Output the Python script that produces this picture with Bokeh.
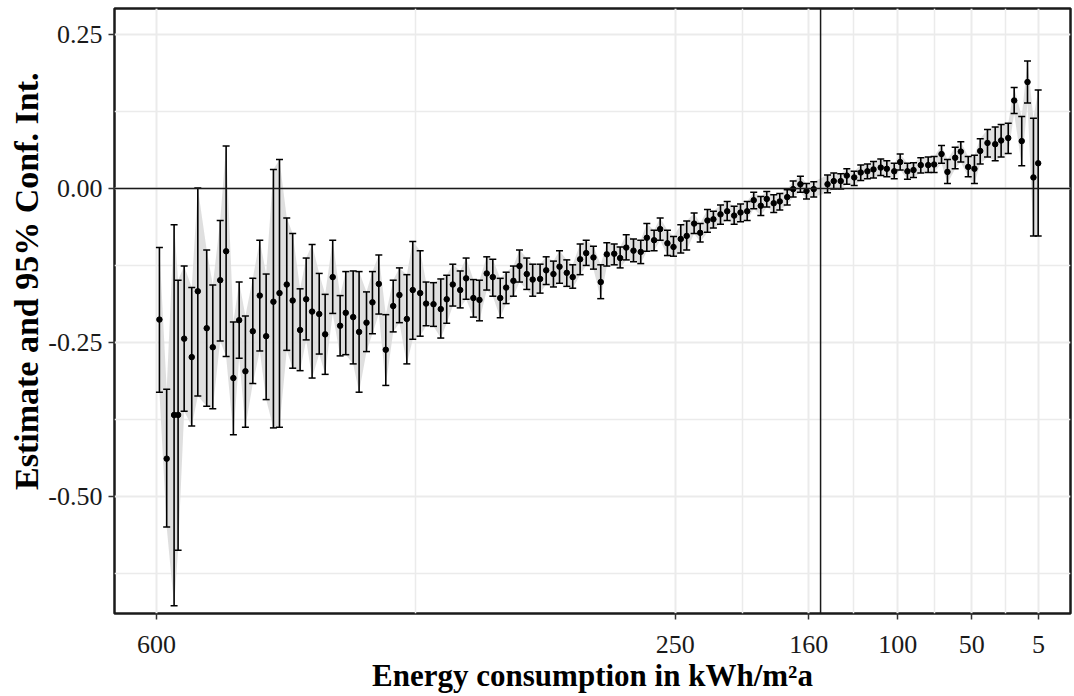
from bokeh.plotting import figure
from bokeh.models import (Range1d, FixedTicker, PrintfTickFormatter,
                          ColumnDataSource, Span, Title)
from bokeh.embed import file_html
from bokeh.resources import INLINE

# Energy consumption bins (kWh/m2a), estimates and 95% CI bounds
energy = [598.0, 593.1, 588.1, 585.4, 581.3, 576.2, 572.1, 566.1, 562.0, 557.0,
          553.0, 548.1, 544.2, 540.0, 535.0, 530.3, 526.0, 521.1, 517.0, 512.1,
          508.1, 503.1, 499.0, 495.0, 490.2, 486.2, 481.1, 476.1, 472.3, 467.3,
          463.3, 458.3, 454.3, 450.0, 445.3, 440.3, 436.1, 431.1, 427.1, 422.1,
          418.1, 413.1, 408.2, 404.2, 400.1, 395.1, 391.1, 386.2, 382.1, 377.2,
          373.1, 368.1, 364.1, 359.2, 355.1, 350.2, 346.2, 341.2, 337.1, 332.2,
          328.1, 323.2, 319.2, 314.2, 310.1, 305.2, 300.3, 296.2, 291.2, 287.2,
          283.1, 278.2, 273.3, 269.2, 264.3, 260.2, 255.3, 251.2, 246.3, 242.3,
          237.3, 233.2, 228.3, 224.3, 219.5, 215.0, 210.3, 206.0, 201.5, 197.1,
          192.3, 188.3, 183.6, 179.5, 174.5, 170.5, 165.6, 161.5, 156.6, 147.3,
          143.1, 138.4, 134.3, 129.3, 124.9, 120.4, 116.3, 111.4, 107.3, 102.3,
          98.3, 93.4, 89.3, 84.4, 79.4, 75.4, 70.4, 66.4, 61.2, 57.4,
          52.4, 48.2, 44.3, 39.4, 34.2, 30.2, 25.4, 21.4, 16.3, 12.4,
          8.4, 5.2]

estimate = [-0.213, -0.439, -0.368, -0.368, -0.244, -0.274, -0.167, -0.227, -0.258, -0.149,
            -0.102, -0.308, -0.214, -0.297, -0.232, -0.174, -0.240, -0.184, -0.170, -0.156,
            -0.182, -0.230, -0.180, -0.200, -0.204, -0.237, -0.144, -0.223, -0.202, -0.209,
            -0.233, -0.218, -0.185, -0.155, -0.262, -0.191, -0.173, -0.212, -0.165, -0.170,
            -0.187, -0.188, -0.196, -0.180, -0.156, -0.165, -0.146, -0.178, -0.181, -0.138,
            -0.144, -0.178, -0.161, -0.150, -0.126, -0.139, -0.148, -0.147, -0.133, -0.139,
            -0.127, -0.137, -0.144, -0.115, -0.105, -0.112, -0.152, -0.107, -0.106, -0.113,
            -0.096, -0.101, -0.103, -0.080, -0.084, -0.066, -0.089, -0.095, -0.082, -0.077,
            -0.057, -0.072, -0.052, -0.050, -0.042, -0.037, -0.044, -0.039, -0.037, -0.019,
            -0.028, -0.017, -0.024, -0.021, -0.014, -0.001, 0.007, -0.004, -0.001, 0.007,
            0.012, 0.012, 0.021, 0.018, 0.026, 0.028, 0.031, 0.034, 0.032, 0.028,
            0.043, 0.028, 0.030, 0.038, 0.038, 0.039, 0.056, 0.027, 0.050, 0.060,
            0.035, 0.032, 0.061, 0.074, 0.072, 0.078, 0.082, 0.143, 0.077, 0.173,
            0.018, 0.041]

upper = [-0.096, -0.326, -0.059, -0.149, -0.126, -0.161, 0.001, -0.100, -0.157, -0.052,
         0.069, -0.217, -0.152, -0.207, -0.146, -0.084, -0.139, 0.031, 0.047, -0.048,
         -0.073, -0.163, -0.113, -0.091, -0.138, -0.172, -0.084, -0.174, -0.135, -0.134,
         -0.135, -0.168, -0.135, -0.108, -0.205, -0.149, -0.129, -0.140, -0.086, -0.101,
         -0.152, -0.153, -0.147, -0.141, -0.123, -0.134, -0.113, -0.148, -0.149, -0.111,
         -0.115, -0.146, -0.136, -0.126, -0.100, -0.113, -0.123, -0.123, -0.111, -0.118,
         -0.101, -0.116, -0.124, -0.090, -0.084, -0.094, -0.124, -0.088, -0.090, -0.095,
         -0.075, -0.082, -0.084, -0.057, -0.068, -0.048, -0.068, -0.078, -0.059, -0.053,
         -0.040, -0.057, -0.034, -0.037, -0.027, -0.021, -0.029, -0.025, -0.021, -0.006,
         -0.013, -0.005, -0.010, -0.008, -0.002, 0.012, 0.020, 0.008, 0.011, 0.022,
         0.025, 0.024, 0.032, 0.028, 0.038, 0.040, 0.044, 0.048, 0.045, 0.041,
         0.056, 0.041, 0.042, 0.050, 0.051, 0.052, 0.070, 0.047, 0.067, 0.076,
         0.052, 0.054, 0.081, 0.096, 0.100, 0.104, 0.106, 0.164, 0.117, 0.207,
         0.114, 0.160]

lower = [-0.331, -0.550, -0.678, -0.588, -0.362, -0.386, -0.337, -0.354, -0.358, -0.248,
         -0.273, -0.400, -0.276, -0.388, -0.317, -0.264, -0.343, -0.389, -0.388, -0.263,
         -0.292, -0.296, -0.246, -0.308, -0.269, -0.302, -0.203, -0.272, -0.270, -0.285,
         -0.331, -0.265, -0.236, -0.204, -0.320, -0.233, -0.218, -0.285, -0.245, -0.240,
         -0.223, -0.224, -0.243, -0.219, -0.191, -0.194, -0.180, -0.209, -0.215, -0.165,
         -0.175, -0.210, -0.187, -0.175, -0.152, -0.164, -0.175, -0.170, -0.156, -0.160,
         -0.154, -0.159, -0.162, -0.140, -0.125, -0.131, -0.179, -0.126, -0.124, -0.129,
         -0.116, -0.119, -0.122, -0.102, -0.101, -0.084, -0.109, -0.110, -0.105, -0.100,
         -0.073, -0.087, -0.071, -0.064, -0.058, -0.052, -0.058, -0.054, -0.052, -0.033,
         -0.044, -0.030, -0.039, -0.035, -0.027, -0.014, -0.006, -0.017, -0.014, -0.007,
         -0.001, -0.001, 0.007, 0.005, 0.013, 0.016, 0.017, 0.021, 0.019, 0.016,
         0.030, 0.015, 0.018, 0.025, 0.026, 0.026, 0.041, 0.008, 0.032, 0.043,
         0.019, 0.008, 0.040, 0.051, 0.045, 0.051, 0.057, 0.122, 0.037, 0.139,
         -0.077, -0.077]

x_ticks = [600, 250, 160, 100, 50, 5]
x_minor = [425, 205, 130, 75, 27.5]
y_ticks = [-0.5, -0.25, 0.0, 0.25]
y_minor = [-0.625, -0.375, -0.125, 0.125]
cutoff = 152

x_title = "Energy consumption in kWh/m\u00b2a"
y_title = "Estimate and 95% Conf. Int."

src = ColumnDataSource(data=dict(x=energy, est=estimate, upper=upper, lower=lower))

p = figure(width=1072, height=695, output_backend="svg", toolbar_location=None,
           x_range=Range1d(628.3, -16.6), y_range=Range1d(-0.6906, 0.2925),
           min_border_left=114, min_border_top=8, min_border_right=2,
           min_border_bottom=82)

serif = "Liberation Serif"

# grid
p.xaxis.ticker = FixedTicker(ticks=x_ticks, minor_ticks=x_minor)
p.yaxis.ticker = FixedTicker(ticks=y_ticks, minor_ticks=y_minor)
p.yaxis.formatter = PrintfTickFormatter(format="%.2f")
for g in (p.xgrid, p.ygrid):
    g.grid_line_color = "#ebebeb"
    g.grid_line_width = 2
    g.minor_grid_line_color = "#ebebeb"
    g.minor_grid_line_width = 1.5

p.outline_line_color = "#1a1a1a"
p.outline_line_width = 2.5
p.background_fill_color = "white"
p.border_fill_color = "white"

# ribbon
p.varea(x="x", y1="lower", y2="upper", source=src, fill_color="#dcdcdc", fill_alpha=0.9)

# reference lines
p.add_layout(Span(location=0, dimension="width", line_color="#1a1a1a", line_width=1.5))
p.add_layout(Span(location=cutoff, dimension="height", line_color="#1a1a1a", line_width=1.5))

# error bars: stems and caps
p.segment(x0="x", y0="lower", x1="x", y1="upper", source=src,
          line_color="black", line_width=1.6)
p.scatter(x="x", y="upper", source=src, marker="dash", size=7,
          line_color="black", line_width=1.5)
p.scatter(x="x", y="lower", source=src, marker="dash", size=7,
          line_color="black", line_width=1.5)

p.scatter(x="x", y="est", source=src, size=5.5, color="black")

# axes
for ax in (p.xaxis, p.yaxis):
    ax.axis_line_color = None
    ax.major_tick_line_color = "#333333"
    ax.major_tick_line_width = 1.5
    ax.major_tick_out = 6
    ax.major_tick_in = 0
    ax.minor_tick_line_color = None
    ax.major_label_text_font = serif
    ax.major_label_text_font_size = "26px"
    ax.major_label_text_color = "#1a1a1a"
    ax.axis_label_text_font = serif
    ax.axis_label_text_font_style = "bold"
    ax.axis_label_text_color = "black"

p.xaxis.axis_label_text_font_size = "31px"
p.xaxis.axis_label = x_title
p.xaxis.major_label_standoff = 16
p.xaxis.axis_label_standoff = 2
p.yaxis.major_label_standoff = 6

# y-axis title as a side title, anchored near the top of the panel
p.add_layout(Title(text=y_title, align="right", offset=64, vertical_align="middle",
                   standoff=0, text_font=serif, text_font_style="bold",
                   text_font_size="34px", text_color="black"), "left")

open("out.html", "w").write(file_html(p, INLINE))
